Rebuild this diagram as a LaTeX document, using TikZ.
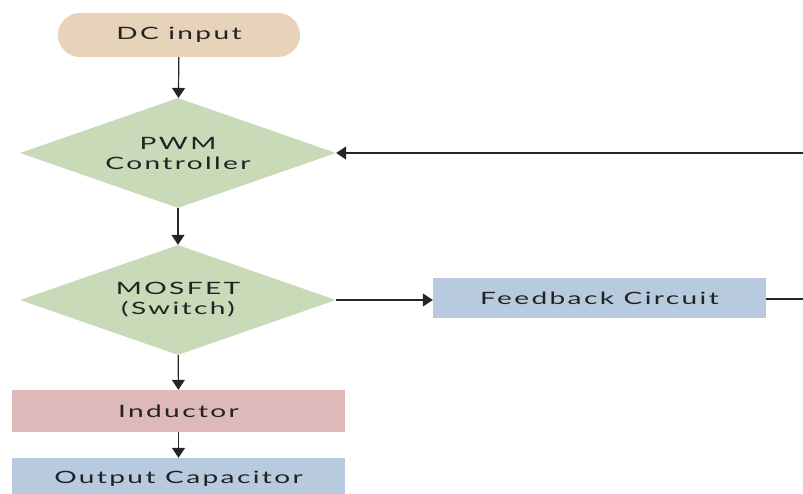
\documentclass[tikz,border=0pt]{standalone}
\usepackage{fontspec}
\setmainfont[FakeStretch=1.65,LetterSpace=14]{Lato}
\usetikzlibrary{shapes.geometric,shapes.misc,arrows.meta}
\definecolor{tan}{HTML}{E6D3B9}
\definecolor{dgreen}{HTML}{C9DAB9}
\definecolor{pinkb}{HTML}{DDB9B9}
\definecolor{blueb}{HTML}{B8CADD}
\definecolor{txt}{HTML}{222222}
\begin{document}
\begin{tikzpicture}[x=1pt,y=-1pt,
  every node/.style={font=\fontsize{17}{20}\selectfont, text=txt, align=center, inner sep=0pt},
  pill/.style={rounded rectangle, fill=tan, minimum width=242pt, minimum height=44pt},
  dia/.style={diamond, aspect=2.87, fill=dgreen, minimum width=316pt, minimum height=110pt},
  box/.style={rectangle, minimum width=333pt, minimum height=42pt},
  conn/.style={line width=1.2pt, draw=black!85, -{Triangle[width=13pt,length=10pt]}},
  plain/.style={line width=1.1pt, draw=black!85}
]
\useasboundingbox (0,0) rectangle (803,494);
\clip (0,0) rectangle (803,494);
\node[pill] (dc) at (179,35) {DC input};
\node[dia] (pwm) at (178,153) {PWM\\Controller};
\node[dia] (mos) at (178,300) {MOSFET\\(Switch)};
\node[box, fill=pinkb] (ind) at (178.5,411) {Inductor};
\node[box, fill=blueb] (cap) at (178.5,479) {Output Capacitor};
\node[box, fill=blueb, minimum width=333pt, minimum height=39pt] (fb) at (599.5,298) {Feedback Circuit};
\coordinate (r1) at (803,153);
\coordinate (r2) at (803,299);
\draw[conn] (dc) -- (pwm);
\draw[conn] (pwm) -- (mos);
\draw[conn] (mos) -- (ind);
\draw[conn] (ind) -- (cap);
\draw[conn] (mos.east) -- (fb.west |- mos.east);
\draw[plain] (fb.east |- r2) -- (r2);
\draw[conn] (r1) -- (pwm.east);
\end{tikzpicture}
\end{document}
